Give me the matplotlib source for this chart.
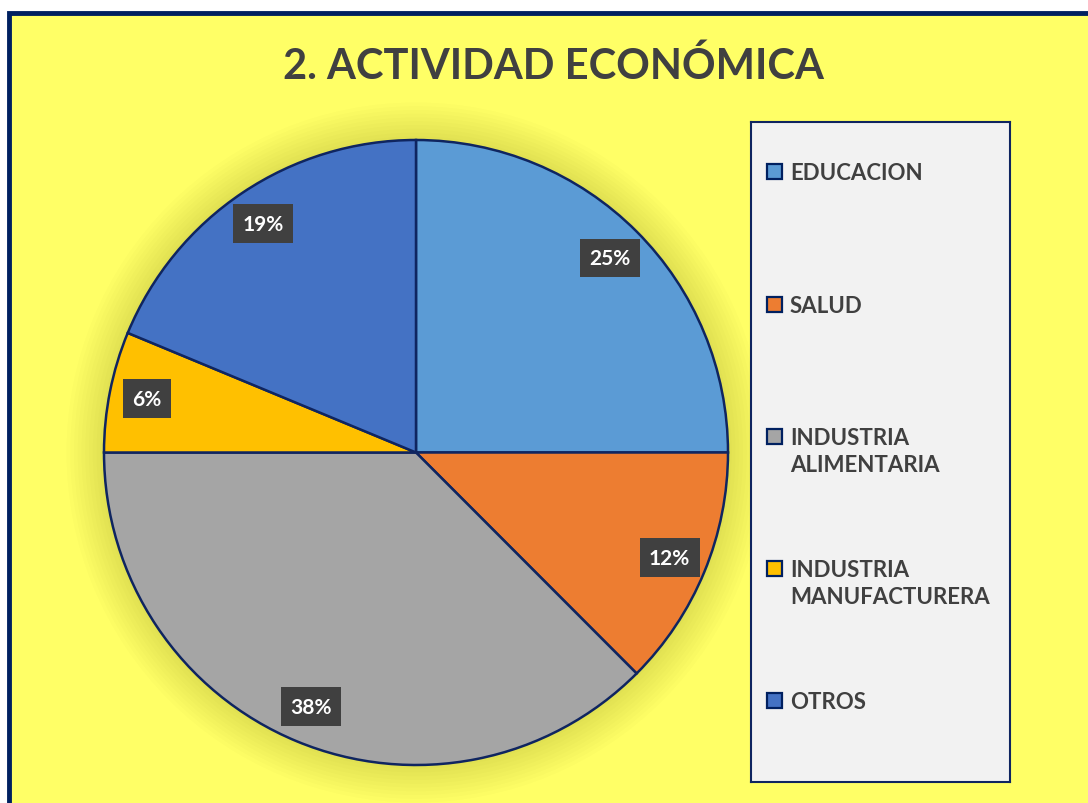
import matplotlib
matplotlib.use("Agg")
import matplotlib.pyplot as plt
from matplotlib.patches import Rectangle, Circle

plt.rcParams["font.family"] = ["Lato", "DejaVu Sans"]

# data
categories = ["EDUCACION", "SALUD", "INDUSTRIA\nALIMENTARIA",
              "INDUSTRIA\nMANUFACTURERA", "OTROS"]
values = [8, 4, 12, 2, 6]
colors = ["#5B9BD5", "#ED7D31", "#A5A5A5", "#FFC000", "#4472C4"]

W, H = 1088, 804
navy = "#0F2560"
fig = plt.figure(figsize=(W / 100, H / 100), dpi=100, facecolor="white")

# outer frame (cut at right and bottom like the reference)
fig.patches.append(Rectangle((9 / W, -0.1), 2, 1 - 14 / H + 0.1,
                             transform=fig.transFigure, fc="#FFFF66",
                             ec="#002060", lw=3.5, zorder=-10))

fig.text(553 / W, 1 - 66 / H, "2. ACTIVIDAD ECONÓMICA", ha="center",
         va="center", fontsize=30, fontweight="bold", color="#404040")

# pie
ax = fig.add_axes([104 / W, 1 - 766 / H, 624 / W, 625 / H])
ax.set_facecolor("#99FF99")
for s in ax.spines.values():
    s.set_color(navy)
    s.set_linewidth(1.5)

# soft glow around the pie
for i in range(10):
    ax.add_patch(Circle((0, 0), 1.0 + 0.012 * (10 - i), fc="#6B6B00",
                        ec="none", alpha=0.018, clip_on=False, zorder=0))

wedges, texts, autotexts = ax.pie(
    values, colors=colors, startangle=90, counterclock=False,
    autopct="%.0f%%", pctdistance=0.88, radius=1,
    wedgeprops=dict(edgecolor=navy, linewidth=1.8, zorder=2),
    textprops=dict(color="white", fontsize=15, fontweight="bold"))
for t in autotexts:
    t.set_bbox(dict(boxstyle="square,pad=0.45", fc="#404040", ec="none"))
    t.set_zorder(5)
ax.set_xlim(-1.0, 1.0)
ax.set_ylim(-1.0, 1.0)
ax.set_aspect("auto")
ax.set_xticks([])
ax.set_yticks([])

# legend box
lax = fig.add_axes([751 / W, 1 - 783 / H, 259 / W, 660 / H])
lax.set_xlim(751, 1010)
lax.set_ylim(783, 123)
lax.set_facecolor("#F2F2F2")
lax.set_xticks([])
lax.set_yticks([])
for s in lax.spines.values():
    s.set_color(navy)
    s.set_linewidth(1.5)

rows = [172, 305, 437, 569, 701]
for y, lab, col in zip(rows, categories, colors):
    lax.add_patch(Rectangle((767, y - 7), 15, 15, fc=col, ec="#002060", lw=1.6))
    lax.text(790, y - 9, lab, ha="left", va="top", fontsize=16,
             fontweight="bold", color="#404040", linespacing=1.38)

fig.savefig("out.png", dpi=100, facecolor=fig.get_facecolor())
